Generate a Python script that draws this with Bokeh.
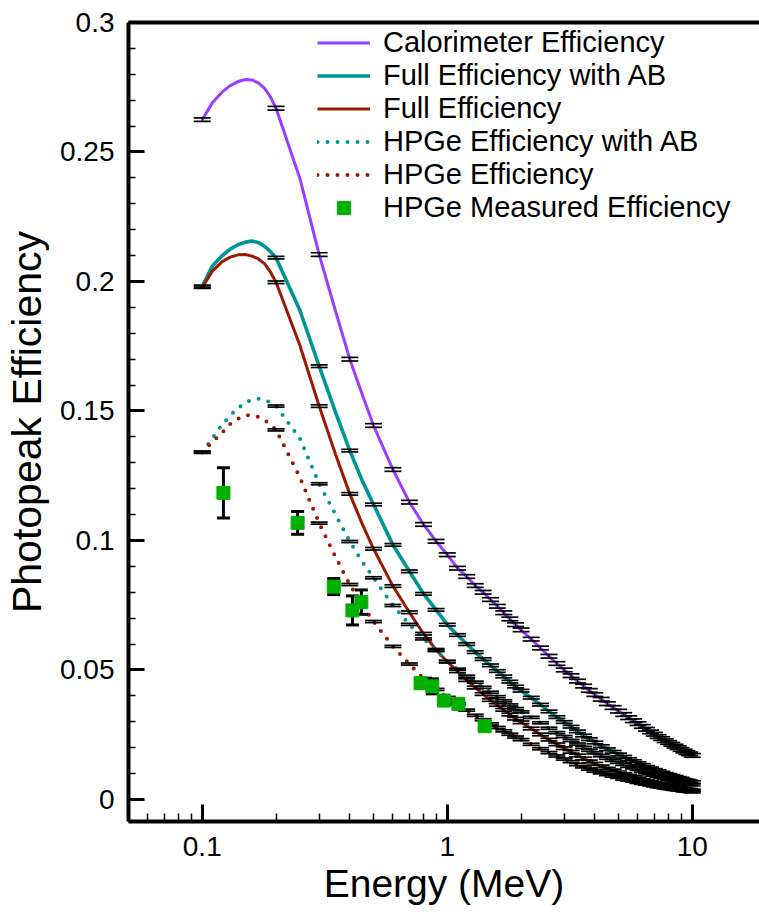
from bokeh.plotting import figure
from bokeh.models import (ColumnDataSource, FixedTicker, NumeralTickFormatter,
                          LogAxis, Legend, LegendItem)
from bokeh.embed import file_html
from bokeh.resources import INLINE

# ---------------- data ----------------
energy = [0.10, 0.11, 0.12, 0.13, 0.14, 0.15, 0.16, 0.17, 0.18, 0.19, 0.20,
          0.25, 0.30, 0.35, 0.40, 0.45, 0.50, 0.60, 0.70, 0.80, 0.90,
          1.0, 1.1, 1.2, 1.3, 1.4, 1.5, 1.6, 1.7, 1.8, 1.9, 2.0,
          2.2, 2.4, 2.6, 2.8, 3.0, 3.2, 3.4, 3.6, 3.8, 4.0,
          4.25, 4.5, 4.75, 5.0, 5.25, 5.5, 5.75, 6.0, 6.25, 6.5, 6.75, 7.0,
          7.25, 7.5, 7.75, 8.0, 8.25, 8.5, 8.75, 9.0, 9.25, 9.5, 9.75, 10.0]

calorimeter = [0.2625, 0.2690, 0.2730, 0.2756, 0.2772, 0.2780, 0.2778, 0.2766, 0.2745, 0.2712, 0.2669,
               0.2400, 0.2104, 0.1885, 0.1700, 0.1563, 0.1444, 0.1274, 0.1148, 0.1062, 0.0997,
               0.0945, 0.0893, 0.0861, 0.0826, 0.0800, 0.0772, 0.0746, 0.0721, 0.0697, 0.0675, 0.0655,
               0.0619, 0.0585, 0.0553, 0.0525, 0.0500, 0.0478, 0.0457, 0.0438, 0.0421, 0.0405,
               0.0387, 0.0370, 0.0355, 0.0341, 0.0328, 0.0316, 0.0304, 0.0293, 0.0282, 0.0271, 0.0261, 0.0252,
               0.0243, 0.0235, 0.0227, 0.0220, 0.0213, 0.0206, 0.0200, 0.0193, 0.0187, 0.0181, 0.0176, 0.0170]

full_ab = [0.1981, 0.2060, 0.2098, 0.2125, 0.2142, 0.2152, 0.2156, 0.2150, 0.2135, 0.2115, 0.2092,
           0.1890, 0.1673, 0.1495, 0.1347, 0.1230, 0.1139, 0.0983, 0.0881, 0.0794, 0.0732,
           0.0675, 0.0635, 0.0600, 0.0569, 0.0542, 0.0518, 0.0496, 0.0475, 0.0455, 0.0436, 0.0420,
           0.0393, 0.0366, 0.0340, 0.0318, 0.0299, 0.0281, 0.0263, 0.0247, 0.0233, 0.0220,
           0.0206, 0.0194, 0.0184, 0.0174, 0.0165, 0.0156, 0.0148, 0.0140, 0.0133, 0.0126, 0.0120, 0.0114,
           0.0109, 0.0104, 0.0099, 0.0095, 0.0091, 0.0087, 0.0083, 0.0080, 0.0076, 0.0073, 0.0070, 0.0067]

full = [0.1978, 0.2040, 0.2075, 0.2094, 0.2103, 0.2104, 0.2098, 0.2086, 0.2068, 0.2036, 0.1997,
        0.1755, 0.1519, 0.1332, 0.1180, 0.1063, 0.0968, 0.0824, 0.0723, 0.0640, 0.0578,
        0.0532, 0.0495, 0.0461, 0.0432, 0.0407, 0.0384, 0.0365, 0.0346, 0.0328, 0.0312, 0.0298,
        0.0274, 0.0251, 0.0231, 0.0213, 0.0198, 0.0184, 0.0170, 0.0158, 0.0147, 0.0138,
        0.0128, 0.0119, 0.0112, 0.0105, 0.0098, 0.0092, 0.0087, 0.0081, 0.0076, 0.0072, 0.0068, 0.0064,
        0.0061, 0.0058, 0.0054, 0.0052, 0.0049, 0.0047, 0.0044, 0.0043, 0.0040, 0.0038, 0.0037, 0.0035]

hpge_ab = [0.1341, 0.1395, 0.1445, 0.1482, 0.1512, 0.1532, 0.1544, 0.1547, 0.1542, 0.1532, 0.1519,
           0.1395, 0.1219, 0.1100, 0.0996, 0.0918, 0.0856, 0.0749, 0.0676, 0.0620, 0.0575,
           0.0533, 0.0503, 0.0476, 0.0453, 0.0433, 0.0414, 0.0397, 0.0381, 0.0365, 0.0351, 0.0338,
           0.0317, 0.0296, 0.0275, 0.0258, 0.0243, 0.0228, 0.0214, 0.0201, 0.0190, 0.0180,
           0.0169, 0.0159, 0.0151, 0.0143, 0.0136, 0.0128, 0.0122, 0.0116, 0.0110, 0.0104, 0.0099, 0.0094,
           0.0090, 0.0086, 0.0082, 0.0079, 0.0076, 0.0072, 0.0069, 0.0067, 0.0063, 0.0061, 0.0058, 0.0056]

hpge = [0.1340, 0.1380, 0.1415, 0.1450, 0.1470, 0.1483, 0.1484, 0.1477, 0.1464, 0.1447, 0.1427,
        0.1245, 0.1067, 0.0936, 0.0830, 0.0750, 0.0687, 0.0591, 0.0523, 0.0467, 0.0425,
        0.0394, 0.0369, 0.0345, 0.0325, 0.0308, 0.0292, 0.0278, 0.0265, 0.0252, 0.0241, 0.0231,
        0.0213, 0.0196, 0.0181, 0.0168, 0.0156, 0.0146, 0.0135, 0.0126, 0.0117, 0.0110,
        0.0103, 0.0096, 0.0090, 0.0085, 0.0079, 0.0075, 0.0071, 0.0066, 0.0062, 0.0059, 0.0056, 0.0053,
        0.0050, 0.0048, 0.0045, 0.0043, 0.0041, 0.0039, 0.0037, 0.0036, 0.0033, 0.0032, 0.0031, 0.0029]

# simulated uncertainty (half width) per series
sim_err = {"calorimeter": 0.0007, "full_ab": 0.0005, "full": 0.0005,
           "hpge_ab": 0.0004, "hpge": 0.0004}

meas_energy = [0.122, 0.245, 0.344, 0.410, 0.446, 0.778, 0.869, 0.968, 1.11, 1.42]
meas_eff = [0.1184, 0.1068, 0.0822, 0.0730, 0.0762, 0.0449, 0.0437, 0.0382, 0.0369, 0.0283]
meas_err = [0.0097, 0.0044, 0.0031, 0.0056, 0.0047, 0.0015, 0.0029, 0.0012, 0.0012, 0.0010]

x_ticks = [0.1, 1, 10]
y_ticks = [0, 0.05, 0.1, 0.15, 0.2, 0.25, 0.3]
labels = ["Calorimeter Efficiency", "Full Efficiency with AB", "Full Efficiency",
          "HPGe Efficiency with AB", "HPGe Efficiency", "HPGe Measured Efficiency"]

PURPLE = "#9b3dff"
TEAL = "#009494"
RED = "#991a00"
GREEN = "#00b000"
FONT = "Liberation Sans"

# ---------------- figure ----------------
p = figure(width=759, height=912, x_axis_type="log",
           x_range=(0.05, 18.8), y_range=(-0.0085, 0.3),
           output_backend="svg", toolbar_location=None,
           min_border_left=128, min_border_right=0,
           min_border_top=22, min_border_bottom=91)
p.xgrid.visible = False
p.ygrid.visible = False
p.outline_line_color = None
p.background_fill_color = "white"
p.border_fill_color = "white"

# lines
r_cal = p.line(energy, calorimeter, line_color=PURPLE, line_width=3)
r_fab = p.line(energy, full_ab, line_color=TEAL, line_width=3.6)
r_full = p.line(energy, full, line_color=RED, line_width=3)
r_hab = p.line(energy, hpge_ab, line_color=TEAL, line_width=4,
               line_dash="0 10", line_cap="round")
r_hp = p.line(energy, hpge, line_color=RED, line_width=4,
              line_dash="0 10", line_cap="round")

# simulated error bars (at the 0.1 MeV grid and above 0.5 MeV)
series = {"calorimeter": calorimeter, "full_ab": full_ab, "full": full,
          "hpge_ab": hpge_ab, "hpge": hpge}
for name, vals in series.items():
    e = sim_err[name]
    xs, up, lo = [], [], []
    for E, v in zip(energy, vals):
        if E >= 0.5 or abs(E * 10 - round(E * 10)) < 1e-9:
            xs.append(E)
            up.append(v + e)
            lo.append(v - e)
    src = ColumnDataSource(dict(x=xs, up=up, lo=lo))
    p.segment(x0="x", y0="lo", x1="x", y1="up", source=src,
              line_color="black", line_width=1)
    p.scatter(x="x", y="up", source=src, marker="dash", size=17,
              line_color="black", line_width=1.7)
    p.scatter(x="x", y="lo", source=src, marker="dash", size=17,
              line_color="black", line_width=1.7)

# measured points
msrc = ColumnDataSource(dict(
    x=meas_energy, y=meas_eff,
    up=[v + e for v, e in zip(meas_eff, meas_err)],
    lo=[v - e for v, e in zip(meas_eff, meas_err)]))
p.segment(x0="x", y0="lo", x1="x", y1="up", source=msrc,
          line_color="black", line_width=3)
p.scatter(x="x", y="up", source=msrc, marker="dash", size=13,
          line_color="black", line_width=3)
p.scatter(x="x", y="lo", source=msrc, marker="dash", size=13,
          line_color="black", line_width=3)
r_meas = p.scatter(x="x", y="y", source=msrc, marker="square", size=13,
                   fill_color=GREEN, line_color=GREEN, line_width=1)

# ---------------- axes ----------------
x_minor = [m * d for d in (0.01, 0.1, 1.0) for m in range(2, 10)]
xa = p.xaxis[0]
xa.ticker = FixedTicker(ticks=x_ticks, minor_ticks=x_minor)
xa.formatter = NumeralTickFormatter(format="0.[0]")
ya = p.yaxis[0]
y_minor = [round(i * 0.01, 2) for i in range(0, 31) if i % 5]
ya.ticker = FixedTicker(ticks=y_ticks, minor_ticks=y_minor)
ya.formatter = NumeralTickFormatter(format="0.[00]")

for ax in (xa, ya):
    ax.axis_line_width = 4
    ax.axis_line_color = "black"
    ax.major_tick_out = 0
    ax.minor_tick_out = 0
    ax.major_tick_line_width = 3
    ax.minor_tick_line_width = 1.5
    ax.major_label_text_font = FONT
    ax.major_label_text_font_size = "28px"
    ax.major_label_text_color = "black"
    ax.axis_label_text_font = FONT
    ax.axis_label_text_font_style = "normal"
    ax.axis_label_text_color = "black"

xa.major_tick_in = 17
xa.minor_tick_in = 8
xa.major_label_standoff = 15
xa.axis_label = "Energy (MeV)"
xa.axis_label_standoff = 3
xa.axis_label_text_font_size = "39px"

ya.major_tick_in = 16
ya.minor_tick_in = 7
ya.major_label_standoff = 14
ya.axis_label = "Photopeak Efficiency"
ya.axis_label_standoff = 7
ya.axis_label_text_font_size = "41px"

top = LogAxis(ticker=FixedTicker(ticks=[]), axis_line_width=4,
              major_tick_in=0, major_tick_out=0, minor_tick_in=0, minor_tick_out=0,
              major_label_text_font_size="0px", major_label_standoff=0)
p.add_layout(top, "above")

# ---------------- legend ----------------
legend = Legend(items=[
    LegendItem(label=labels[0], renderers=[r_cal]),
    LegendItem(label=labels[1], renderers=[r_fab]),
    LegendItem(label=labels[2], renderers=[r_full]),
    LegendItem(label=labels[3], renderers=[r_hab]),
    LegendItem(label=labels[4], renderers=[r_hp]),
    LegendItem(label=labels[5], renderers=[r_meas]),
], location=(189, 597))
legend.padding = 0
legend.margin = 0
legend.spacing = 0
legend.border_line_color = None
legend.background_fill_alpha = 0
legend.glyph_width = 53
legend.glyph_height = 33
legend.label_height = 33
legend.label_standoff = 13
legend.label_text_font = FONT
legend.label_text_font_size = "29px"
legend.label_text_color = "black"
p.add_layout(legend)

open("out.html", "w").write(file_html(p, INLINE))
